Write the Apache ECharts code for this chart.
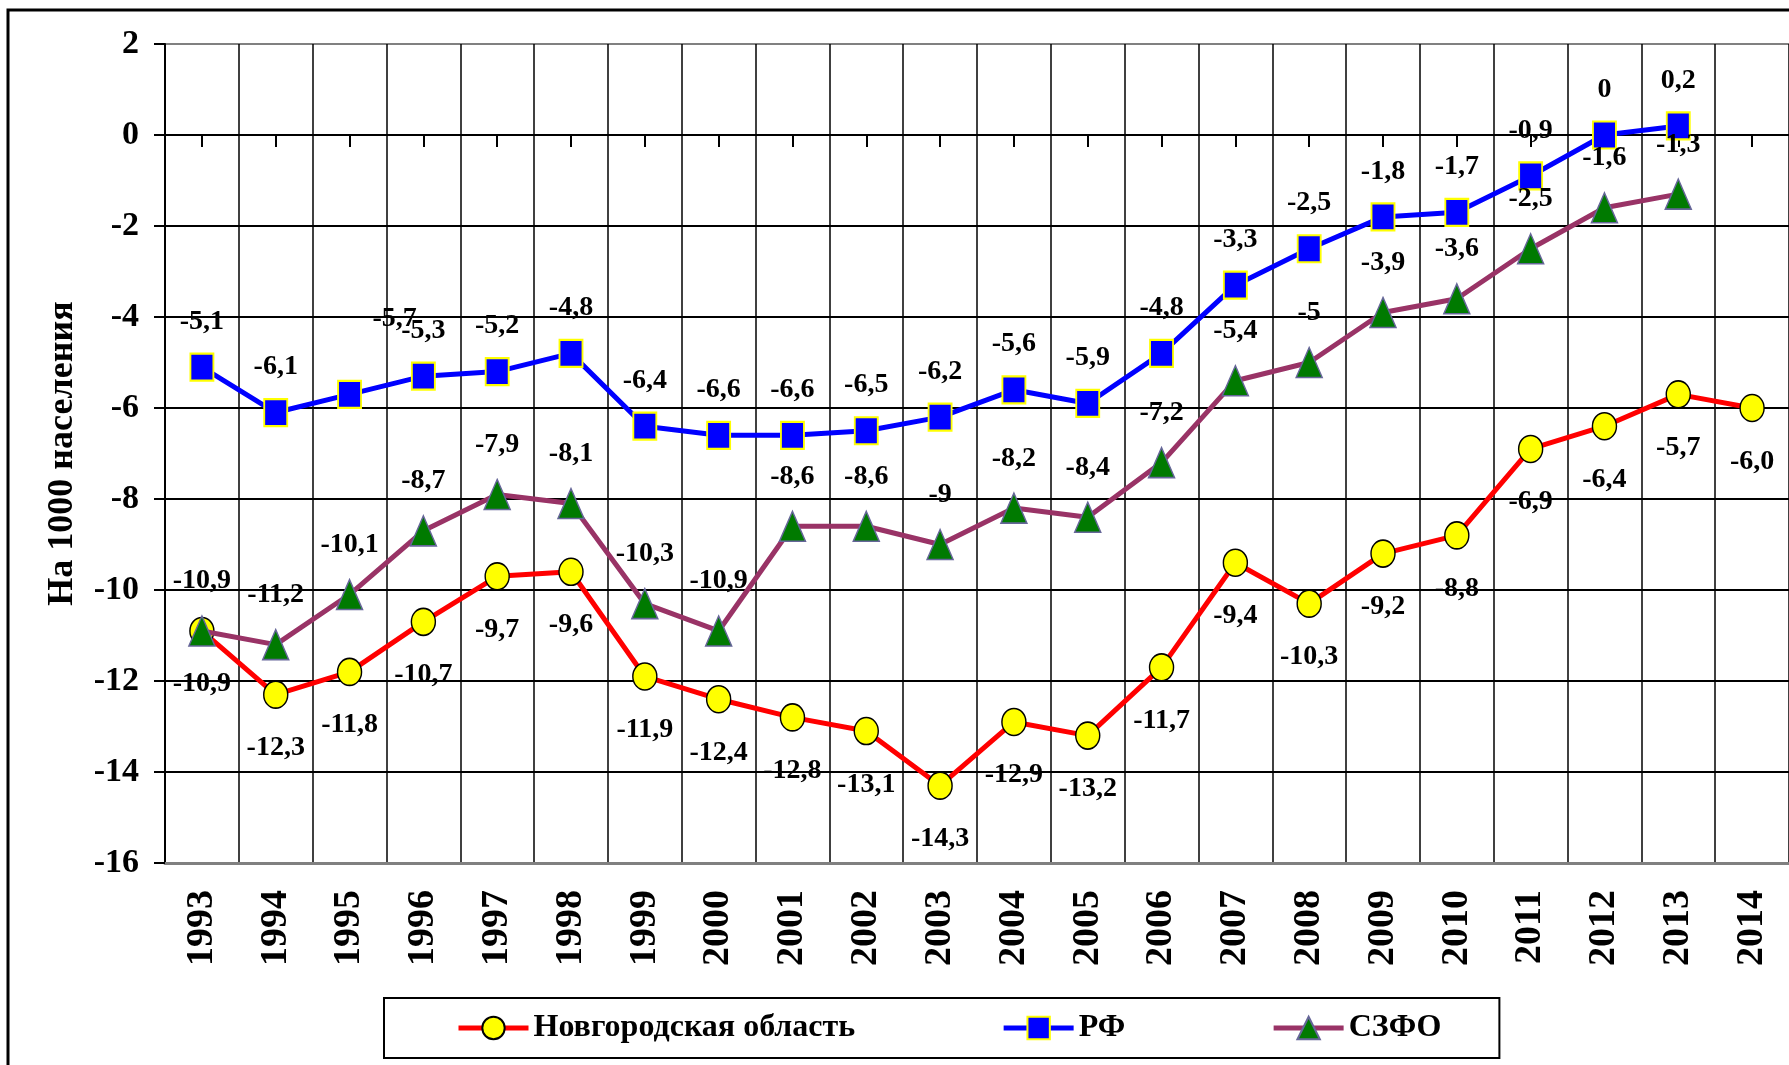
<!DOCTYPE html>
<html>
<head>
<meta charset="utf-8">
<script src="https://cdn.jsdelivr.net/npm/echarts@6/dist/echarts.min.js"></script>
<style>
html,body{margin:0;padding:0;background:#fff;}
#c1{width:1789px;height:1065px;}
</style>
</head>
<body>
<div id="c1"></div>
<script>
// данные графика
var years = ['1993','1994','1995','1996','1997','1998','1999','2000','2001','2002','2003',
	'2004','2005','2006','2007','2008','2009','2010','2011','2012','2013','2014'];
var novgorod = [-10.9,-12.3,-11.8,-10.7,-9.7,-9.6,-11.9,-12.4,-12.8,-13.1,-14.3,
	-12.9,-13.2,-11.7,-9.4,-10.3,-9.2,-8.8,-6.9,-6.4,-5.7,-6.0];
var rf = [-5.1,-6.1,-5.7,-5.3,-5.2,-4.8,-6.4,-6.6,-6.6,-6.5,-6.2,
	-5.6,-5.9,-4.8,-3.3,-2.5,-1.8,-1.7,-0.9,0,0.2,null];
var szfo = [-10.9,-11.2,-10.1,-8.7,-7.9,-8.1,-10.3,-10.9,-8.6,-8.6,-9,
	-8.2,-8.4,-7.2,-5.4,-5,-3.9,-3.6,-2.5,-1.6,-1.3,null];
var names = ['Новгородская область','РФ','СЗФО'];
var yMin = -16, yMax = 2, yStep = 2;

var font = 'Liberation Serif';

function fmt(v, fixed) {
	if (v == null) return '';
	var s = fixed ? v.toFixed(1) : String(v);
	return s.replace('.', ',');
}

function showChart() {
	var myChart = echarts.init(document.getElementById('c1'));

	// подпись 1995 для РФ в оригинале сдвинута
	var rfData = rf.map(function(v, i) {
		if (i == 2) return {value: v, label: {offset: [45, -30]}};
		return v;
	});

	var splitColors = [];
	for (var t = yMin; t <= yMax; t += yStep) {
		splitColors.push(t == yMin || t == yMax ? '#808080' : '#000');
	}

	var labelBase = {
		show: true,
		color: '#000',
		fontFamily: font,
		fontWeight: 'bold',
		fontSize: 28
	};

	var option = {
		backgroundColor: '#fff',
		animation: false,
		graphic: [{
			type: 'rect',
			silent: true,
			z: 0,
			shape: {x: 8, y: 10, width: 1900, height: 1200},
			style: {fill: 'none', stroke: '#000', lineWidth: 3}
		}],
		grid: {left: 165, right: 0, top: 44, bottom: 202},
		legend: {
			data: names,
			left: 384,
			top: 998,
			padding: [14, 58, 14, 72],
			itemGap: 146,
			itemWidth: 70,
			itemHeight: 28,
			borderColor: '#000',
			borderWidth: 2,
			lineStyle: {width: 5},
			textStyle: {fontFamily: font, fontWeight: 'bold', fontSize: 32, color: '#000'}
		},
		xAxis: [{
			type: 'category',
			data: years,
			position: 'bottom',
			boundaryGap: true,
			axisLine: {onZero: false, lineStyle: {color: '#808080', width: 3}},
			axisTick: {show: false},
			axisLabel: {
				rotate: 90,
				interval: 0,
				margin: 27,
				color: '#000',
				fontFamily: font,
				fontWeight: 'bold',
				fontSize: 38
			},
			splitLine: {show: true, interval: 0, lineStyle: {color: '#000', width: 1.5}}
		}, {
			type: 'category',
			data: years,
			position: 'top',
			boundaryGap: true,
			axisLine: {onZero: true, lineStyle: {color: '#000', width: 2}},
			axisTick: {show: true, inside: true, alignWithLabel: true, length: 12, interval: 0,
				lineStyle: {color: '#000', width: 2}},
			axisLabel: {show: false},
			splitLine: {show: false}
		}],
		yAxis: {
			type: 'value',
			min: yMin,
			max: yMax,
			interval: yStep,
			name: 'На 1000 населения',
			nameLocation: 'middle',
			nameRotate: 90,
			nameGap: 84,
			nameTextStyle: {fontFamily: font, fontWeight: 'bold', fontSize: 36, color: '#000'},
			axisLine: {show: true, lineStyle: {color: '#000', width: 2}},
			axisTick: {show: true, length: 11, lineStyle: {color: '#000', width: 2}},
			axisLabel: {
				margin: 26,
				color: '#000',
				fontFamily: font,
				fontWeight: 'bold',
				fontSize: 34
			},
			splitLine: {show: true, lineStyle: {color: splitColors, width: 2}}
		},
		series: [{
			name: names[0],
			type: 'line',
			data: novgorod,
			symbol: 'circle',
			symbolSize: [24, 27],
			showAllSymbol: true,
			lineStyle: {color: '#ff0000', width: 5},
			itemStyle: {color: '#ffff00', borderColor: '#000', borderWidth: 1.5},
			label: Object.assign({}, labelBase, {
				position: 'bottom',
				distance: 25,
				formatter: function(p) { return fmt(p.value, true); }
			}),
			z: 3
		}, {
			name: names[1],
			type: 'line',
			data: rfData,
			symbol: 'rect',
			symbolSize: [23, 27],
			showAllSymbol: true,
			lineStyle: {color: '#0000ff', width: 5},
			itemStyle: {color: '#0000ff', borderColor: '#ffff00', borderWidth: 2},
			label: Object.assign({}, labelBase, {
				position: 'top',
				distance: 17,
				formatter: function(p) { return fmt(p.value, false); }
			}),
			z: 4
		}, {
			name: names[2],
			type: 'line',
			data: szfo,
			symbol: 'triangle',
			symbolSize: [26, 30],
			showAllSymbol: true,
			lineStyle: {color: '#993366', width: 5},
			itemStyle: {color: '#007a00', borderColor: '#666699', borderWidth: 1.5},
			label: Object.assign({}, labelBase, {
				position: 'top',
				distance: 20,
				formatter: function(p) { return fmt(p.value, false); }
			}),
			z: 5
		}]
	};
	myChart.setOption(option);
}
showChart();
</script>
</body>
</html>
